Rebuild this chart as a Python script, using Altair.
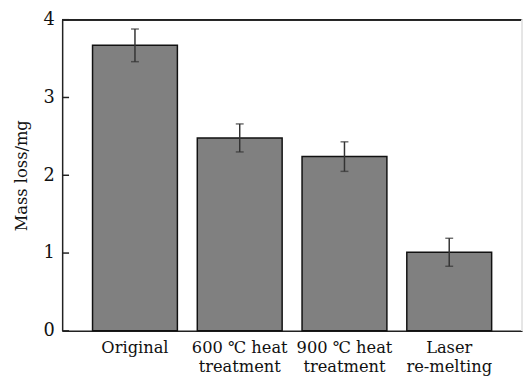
import altair as alt
import pandas as pd

categories = ["Original", "600 ℃ heat\ntreatment", "900 ℃ heat\ntreatment", "Laser\nre-melting"]
values = [3.67, 2.48, 2.24, 1.01]
errors = [0.21, 0.18, 0.19, 0.18]
y_ticks = [0, 1, 2, 3, 4]

df = pd.DataFrame({"cat": categories, "val": values, "err": errors})
df["lo"] = df["val"] - df["err"]
df["hi"] = df["val"] + df["err"]
ticks_df = pd.DataFrame({"t": y_ticks})

FONT = "DejaVu Serif"
W, H = 467, 316

xscale = alt.Scale(domain=categories, paddingInner=0.19, paddingOuter=0.29)
yscale = alt.Scale(domain=[0, 4], nice=False)

x_enc = alt.X("cat:N", scale=xscale, sort=categories,
              axis=alt.Axis(title=None, labelAngle=0, ticks=False, domain=True,
                            domainColor="#222", domainWidth=1.5,
                            labelExpr="split(datum.label, '\\n')",
                            labelFont=FONT, labelFontSize=16.5, labelColor="#111",
                            labelPadding=9, labelLineHeight=19))

bars = alt.Chart(df).mark_bar(fill="#808080", stroke="#111", strokeWidth=1.5).encode(
    x=x_enc,
    y=alt.Y("val:Q", scale=yscale,
            axis=alt.Axis(title="Mass loss/mg", values=y_ticks, format="d", ticks=False, grid=False,
                          domain=True, domainColor="#222", domainWidth=1.5,
                          labelFont=FONT, labelFontSize=18, labelColor="#111",
                          labelPadding=8, titleFont=FONT, titleFontSize=16.5,
                          titleFontWeight="normal", titleColor="#111", titlePadding=14)),
)

err_rule = alt.Chart(df).mark_rule(color="#333", strokeWidth=1.5).encode(
    x=alt.X("cat:N", scale=xscale, sort=categories),
    y=alt.Y("lo:Q", scale=yscale),
    y2="hi:Q",
)
cap_lo = alt.Chart(df).mark_tick(color="#333", size=8, thickness=1.5).encode(
    x=alt.X("cat:N", scale=xscale, sort=categories),
    y=alt.Y("lo:Q", scale=yscale),
)
cap_hi = alt.Chart(df).mark_tick(color="#333", size=8, thickness=1.5).encode(
    x=alt.X("cat:N", scale=xscale, sort=categories),
    y=alt.Y("hi:Q", scale=yscale),
)

inner_ticks = alt.Chart(ticks_df).mark_rule(color="#222", strokeWidth=1.5).encode(
    y=alt.Y("t:Q", scale=yscale),
    x=alt.value(0),
    x2=alt.value(7),
)

top_line = alt.Chart(ticks_df).mark_rule(color="#222", strokeWidth=1.5).encode(
    y=alt.value(0), x=alt.value(0), x2=alt.value(W),
)
right_line = alt.Chart(ticks_df).mark_rule(color="#e6e6e6", strokeWidth=1).encode(
    x=alt.value(W), y=alt.value(0), y2=alt.value(H),
)

chart = alt.layer(bars, err_rule, cap_lo, cap_hi, inner_ticks, top_line, right_line).properties(
    width=W, height=H,
    autosize=alt.AutoSizeParams(type="none"),
    padding={"left": 55, "top": 9, "right": 2, "bottom": 44},
).configure_view(stroke=None).configure(background="white")

chart.save("out.html", embed_options={"renderer": "svg", "actions": False})
